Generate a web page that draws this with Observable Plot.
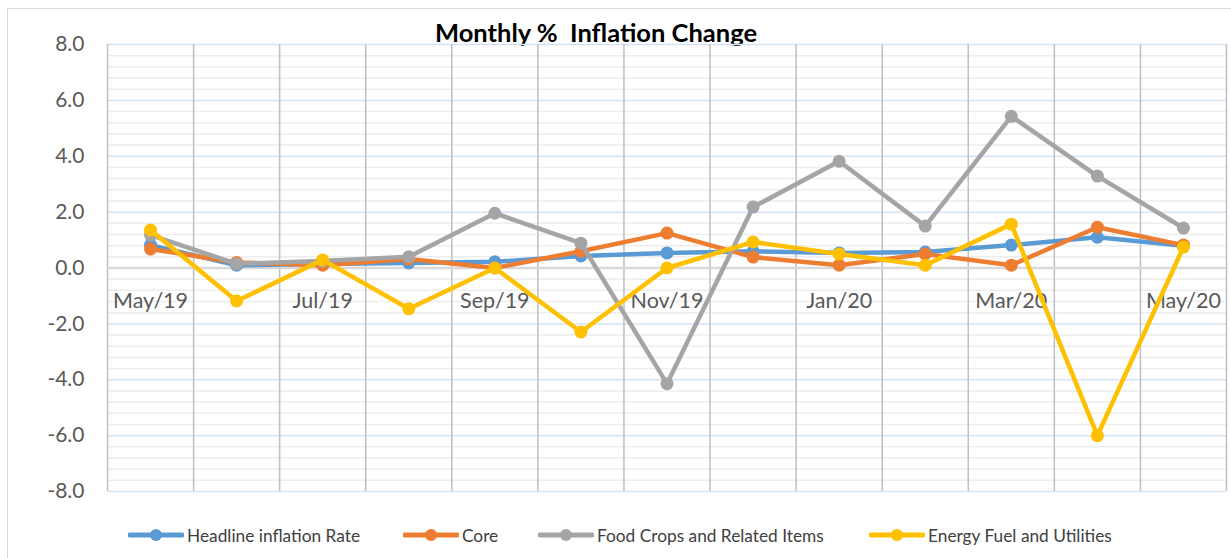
<!DOCTYPE html>
<html>
<head>
<meta charset="utf-8">
<script src="https://cdn.jsdelivr.net/npm/d3@7"></script>
<script src="https://cdn.jsdelivr.net/npm/@observablehq/plot@0.6"></script>
<style>
  body { margin: 0; background: #fff; font-family: Lato, "Open Sans", sans-serif; }
  #wrap { position: relative; width: 1231px; height: 558px; overflow: hidden; }
  #border { position: absolute; left: 7px; top: 8px; width: 1230px; height: 560px; border: 1.5px solid #d9d9d9; box-sizing: border-box; }
  #title { position: absolute; left: 0; width: 1192px; top: 20px; text-align: center; font-weight: bold; font-size: 25.5px; color: #000; white-space: pre; line-height: 1; }
  #chart { position: absolute; left: 0; top: 34px; }
  #legend { position: absolute; top: 523px; left: 0; width: 1231px; height: 24px; font-size: 17.3px; color: #404040; }
  .item { position: absolute; top: 0; display: flex; align-items: center; height: 24px; white-space: nowrap; }
  .item svg { margin-right: 3px; }
</style>
</head>
<body>
<div id="wrap">
  <div id="border"></div>
  <div id="title">Monthly %  Inflation Change</div>
  <div id="chart"></div>
  <div id="legend"></div>
</div>
<script>
const months = ["May/19","Jun/19","Jul/19","Aug/19","Sep/19","Oct/19","Nov/19","Dec/19","Jan/20","Feb/20","Mar/20","Apr/20","May/20"];
const headline = [0.82, 0.10, 0.14, 0.18, 0.22, 0.43, 0.54, 0.60, 0.54, 0.57, 0.82, 1.10, 0.80];
const core     = [0.68, 0.20, 0.10, 0.32, 0.00, 0.60, 1.25, 0.39, 0.10, 0.50, 0.10, 1.46, 0.82];
const food     = [1.18, 0.15, 0.25, 0.40, 1.96, 0.89, -4.14, 2.18, 3.82, 1.50, 5.43, 3.29, 1.43];
const energy   = [1.36, -1.18, 0.29, -1.46, 0.00, -2.29, 0.00, 0.93, 0.50, 0.10, 1.57, -6.00, 0.75];
const seriesNames = ["Headline inflation Rate", "Core", "Food Crops and Related Items", "Energy Fuel and Utilities"];
const seriesColors = ["#5b9bd5", "#ed7d31", "#a5a5a5", "#ffc000"];
const seriesValues = [headline, core, food, energy];
const yTicks = [-8, -6, -4, -2, 0, 2, 4, 6, 8];
const labelIdx = [0, 2, 4, 6, 8, 10, 12];

const minorTicks = d3.range(0, 41).filter(k => k % 5 !== 0).map(k => Math.round((-8 + k * 0.4) * 10) / 10);
const bounds = d3.range(0, 14).map(k => k - 0.5);

const lineMarks = seriesValues.flatMap((vals, s) => {
  const rows = vals.map((v, i) => ({i, v}));
  return [
    Plot.line(rows, {x: "i", y: "v", stroke: seriesColors[s], strokeWidth: 4.5, strokeLinejoin: "round"}),
    Plot.dot(rows, {x: "i", y: "v", fill: seriesColors[s], r: 6.5})
  ];
});

const chart = Plot.plot({
  width: 1231, height: 470,
  marginLeft: 107, marginRight: 5, marginTop: 10, marginBottom: 13,
  x: {type: "linear", domain: [-0.5, 12.5], axis: null},
  y: {domain: [-8, 8], axis: null},
  style: {fontFamily: "Lato, 'Open Sans', sans-serif", background: "transparent", color: "#595959", overflow: "visible"},
  marks: [
    Plot.ruleY(minorTicks, {stroke: "#ededed", strokeWidth: 1.5}),
    Plot.ruleY(yTicks, {stroke: "#d6e3f2", strokeWidth: 1.5}),
    Plot.ruleX(bounds, {stroke: "#bfbfbf", strokeWidth: 1.5}),
    Plot.ruleY([0], {stroke: "#d9d9d9", strokeWidth: 2.5}),
    Plot.axisY({ticks: yTicks, label: null, tickSize: 0, tickPadding: 23, tickFormat: d => d.toFixed(1), fontSize: 21}),
    Plot.text(labelIdx, {x: d => d, y: 0, dy: 33, text: d => months[d], fontSize: 21.5, fill: "#595959"}),
    ...lineMarks
  ]
});
document.getElementById("chart").appendChild(chart);

const legend = document.getElementById("legend");
const lefts = [128, 403, 538, 869];
seriesNames.forEach((name, s) => {
  const item = document.createElement("div");
  item.className = "item";
  item.style.left = lefts[s] + "px";
  item.innerHTML = `<svg width="56" height="16"><line x1="2" x2="54" y1="8" y2="8" stroke="${seriesColors[s]}" stroke-width="5" stroke-linecap="round"/><circle cx="28" cy="8" r="6" fill="${seriesColors[s]}"/></svg><span>${name}</span>`;
  legend.appendChild(item);
});
</script>
</body>
</html>
